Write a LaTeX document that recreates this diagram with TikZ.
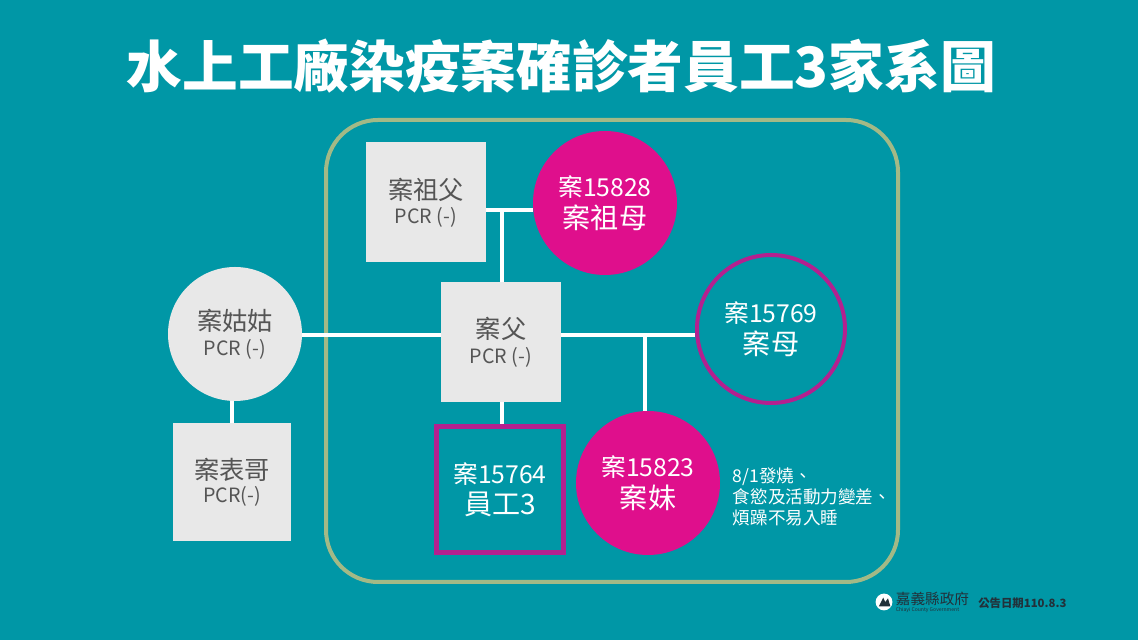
\documentclass[tikz,border=0pt]{standalone}
\usepackage{fontspec}
\setmainfont{Noto Sans CJK TC}
\definecolor{bgteal}{HTML}{0097A6}
\definecolor{framegreen}{HTML}{A3B986}
\definecolor{casepink}{HTML}{DF0F8C}
\definecolor{ringpurple}{HTML}{B4208F}
\definecolor{boxgray}{HTML}{E8E8E8}
\definecolor{textgray}{HTML}{555555}
\definecolor{footdark}{HTML}{22313A}
\newcommand{\caseline}[1]{\fontsize{17.6}{22}\selectfont #1}
\newcommand{\nameline}[1]{\fontsize{20}{22}\selectfont #1}
\newcommand{\kinline}[1]{\fontsize{18}{19}\selectfont #1}
\newcommand{\pcrline}[1]{\fontsize{14}{19}\selectfont #1}
\tikzset{
  kinbox/.style={rectangle, fill=boxgray, text=textgray, align=center, minimum width=3cm, minimum height=3cm},
  kincircle/.style={circle, fill=boxgray, text=textgray, align=center, minimum size=3.35cm},
  casecircle/.style={circle, fill=casepink, text=white, align=center, minimum size=3.6cm},
  kinlink/.style={draw=white, line width=0.1cm},
}
\begin{document}
\begin{tikzpicture}
  \fill[bgteal] (0,0) rectangle (28.45,16);
  \useasboundingbox (0,0) rectangle (28.45,16);

  % Titel
  \node[text=white, font=\bfseries\fontsize{39.6}{44}\selectfont] (title) at (14.03,14.35) {水上工廠染疫案確診者員工3家系圖};

  % Rahmen
  \draw[framegreen, line width=0.1cm, rounded corners=1.3cm] (8.15,1.45) rectangle (22.45,13);

  % Grosseltern
  \node[kinbox] (zufu) at (10.65,10.94) {\kinline{案祖父}\\[3pt]\pcrline{PCR (-)}};
  \node[casecircle] (zumu) at (15.125,10.925) {\caseline{案15828}\\[3.5pt]\nameline{案祖母}};

  % Eltern
  \node[kinbox] (fu) at (12.525,7.45) {\kinline{案父}\\[4pt]\pcrline{PCR (-)}};
  \node[circle, draw=ringpurple, line width=0.1cm, text=white, align=center, minimum size=3.7cm] (mu) at (19.275,7.775) {\caseline{案15769}\\[3.5pt]\nameline{案母}};

  % Tante und Cousin
  \node[kincircle] (gugu) at (5.875,7.65) {\kinline{案姑姑}\\[4pt]\pcrline{PCR (-)}};
  \node[kinbox, minimum width=2.95cm, minimum height=2.95cm] (biaoge) at (5.8,3.94) {\kinline{案表哥}\\[3pt]\pcrline{PCR(-)}};

  % Kinder
  \node[rectangle, draw=ringpurple, line width=0.125cm, text=white, align=center, minimum width=3.17cm, minimum height=3.15cm] (yuangong) at (12.5,3.76) {\caseline{案15764}\\[3.5pt]\nameline{員工3}};
  \node[casecircle] (mei) at (16.2,3.925) {\caseline{案15823}\\[3.5pt]\nameline{案妹}};
  \node[anchor=west, text=white, align=left, font=\fontsize{12.5}{15}\selectfont] (note) at (18.2,3.57) {8/1發燒、\\食慾及活動力變差、\\煩躁不易入睡};

  % Verbindungen
  \coordinate (zujunc) at (12.55,10.75);
  \coordinate (mujunc) at (16.125,7.62);
  \draw[kinlink] (zufu.east |- zujunc) -- (zumu.west |- zujunc);
  \draw[kinlink] (zujunc) -- (zujunc |- fu.north);
  \draw[kinlink] (gugu.east |- mujunc) -- (fu.west |- mujunc);
  \draw[kinlink] (fu.east |- mujunc) -- (mu.west |- mujunc);
  \draw[kinlink] (mujunc) -- (mujunc |- mei.north);
  \draw[kinlink] (zujunc |- fu.south) -- (zujunc |- yuangong.north);
  \draw[kinlink] (biaoge.north |- gugu.south) -- (biaoge.north);

  % Fusszeile
  \node[circle, fill=white, minimum size=0.42cm, inner sep=0pt] (logo) at (22.1,0.95) {};
  \fill[footdark] (21.97,0.84) -- (22.08,1.06) -- (22.13,0.95) -- (22.2,1.04) -- (22.26,0.84) -- cycle;
  \node[anchor=west, text=footdark, inner sep=0pt, font=\fontsize{10.4}{12}\selectfont] (county) at (22.39,1.02) {嘉義縣政府};
  \node[anchor=west, text=footdark, inner sep=0pt, font=\fontsize{3.6}{4}\selectfont] (countyen) at (22.39,0.76) {Chiayi County Government};
  \node[anchor=west, text=footdark, inner sep=0pt, font=\bfseries\fontsize{8.1}{10}\selectfont] (date) at (24.45,0.93) {公告日期110.8.3};
\end{tikzpicture}
\end{document}
